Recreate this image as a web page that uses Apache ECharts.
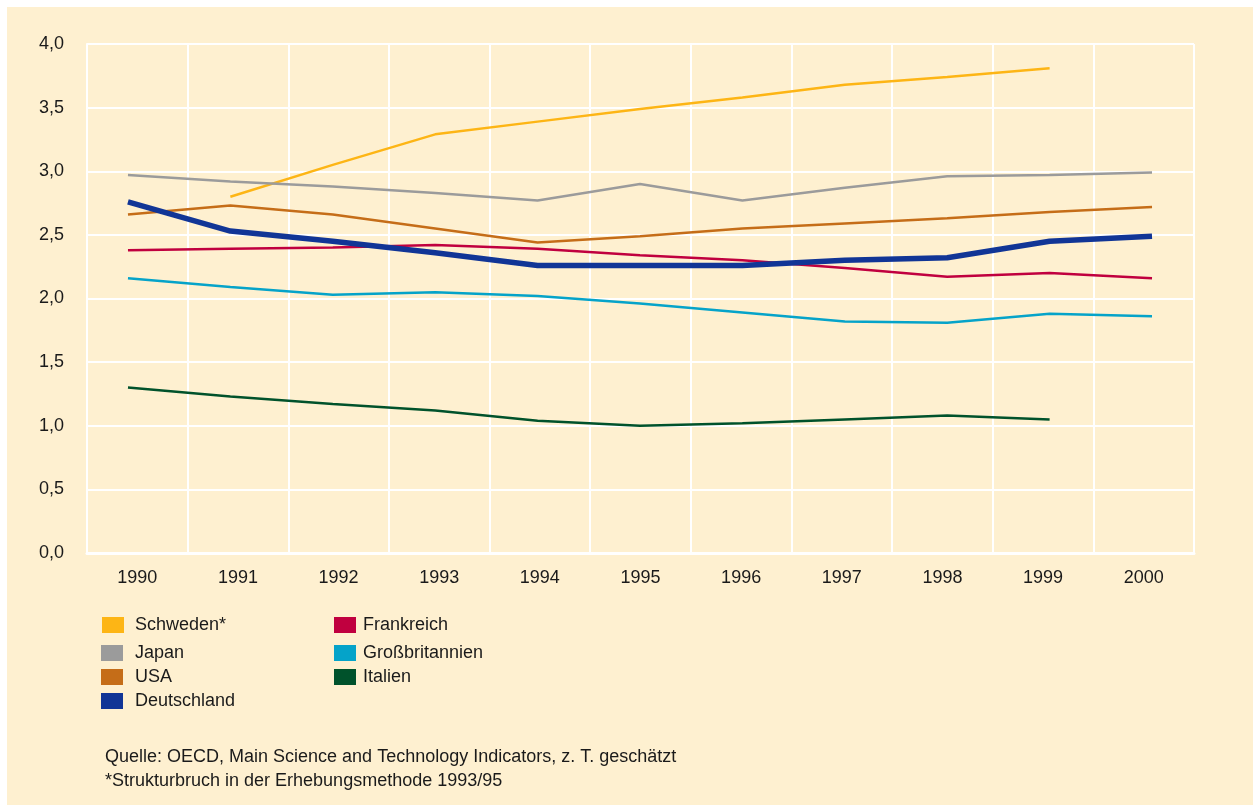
<!DOCTYPE html>
<html>
<head>
<meta charset="utf-8">
<script src="https://cdn.jsdelivr.net/npm/echarts@6/dist/echarts.min.js"></script>
<style>
body { margin: 0; background: #ffffff; }
#main { position: absolute; left: 7px; top: 7px; width: 1246px; height: 798px; }
</style>
</head>
<body>
<div id="main"></div>
<script>
var years = ['1990','1991','1992','1993','1994','1995','1996','1997','1998','1999','2000'];
var schweden     = [null, 2.80, 3.05, 3.29, 3.39, 3.49, 3.58, 3.68, 3.74, 3.81, null];
var japan        = [2.97, 2.92, 2.88, 2.83, 2.77, 2.90, 2.77, 2.87, 2.96, 2.97, 2.99];
var usa          = [2.66, 2.73, 2.66, 2.55, 2.44, 2.49, 2.55, 2.59, 2.63, 2.68, 2.72];
var deutschland  = [2.76, 2.53, 2.45, 2.36, 2.26, 2.26, 2.26, 2.30, 2.32, 2.45, 2.49];
var frankreich   = [2.38, 2.39, 2.40, 2.42, 2.39, 2.34, 2.30, 2.24, 2.17, 2.20, 2.16];
var grossbritannien = [2.16, 2.09, 2.03, 2.05, 2.02, 1.96, 1.89, 1.82, 1.81, 1.88, 1.86];
var italien      = [1.30, 1.23, 1.17, 1.12, 1.04, 1.00, 1.02, 1.05, 1.08, 1.05, null];
var yTicks = { min: 0, max: 4, interval: 0.5 };

var dom = document.getElementById('main');
var myChart = echarts.init(dom);
var font = 'Liberation Sans';

function pairs(arr) {
    return years.map(function (y, i) { return [Number(y), arr[i]]; });
}

function line(name, arr, color, width) {
    return {
        name: name,
        type: 'line',
        xAxisIndex: 1,
        data: pairs(arr),
        symbol: 'none',
        connectNulls: false,
        lineStyle: { color: color, width: width },
        itemStyle: { color: color }
    };
}

var legendBase = {
    orient: 'vertical',
    icon: 'rect',
    itemWidth: 22,
    itemHeight: 16,
    itemGap: 6,
    padding: 0,
    selectedMode: false
};

function legend(names, left, top, pad) {
    return Object.assign({}, legendBase, {
        data: names,
        left: left,
        top: top,
        textStyle: { fontFamily: font, fontSize: 18, color: '#1a1a1a', lineHeight: 18, padding: [0, 0, 0, pad] }
    });
}

var option = {
    backgroundColor: '#fef0d0',
    animation: false,
    grid: { left: 80, top: 37, right: 59, bottom: 252 },
    xAxis: [
        {
            type: 'category',
            data: years,
            boundaryGap: true,
            axisLine: { show: true, lineStyle: { color: '#ffffff', width: 3 } },
            axisTick: { show: false },
            axisLabel: { fontFamily: font, fontSize: 18, color: '#1a1a1a', margin: 16 },
            splitLine: { show: true, lineStyle: { color: '#ffffff', width: 2 } }
        },
        {
            type: 'value',
            show: false,
            min: 1989.6,
            max: 2000.41
        }
    ],
    yAxis: {
        type: 'value',
        min: yTicks.min,
        max: yTicks.max,
        interval: yTicks.interval,
        axisLine: { show: true, lineStyle: { color: '#ffffff', width: 2 } },
        axisTick: { show: false },
        axisLabel: {
            fontFamily: font, fontSize: 18, color: '#1a1a1a', margin: 23,
            formatter: function (v) { return v.toFixed(1).replace('.', ','); }
        },
        splitLine: { show: true, lineStyle: { color: '#ffffff', width: 2 } }
    },
    legend: [
        legend(['Schweden*'], 95, 609, 6),
        legend(['Japan', 'USA', 'Deutschland'], 94, 637, 7),
        legend(['Frankreich'], 327, 609, 2),
        legend(['Großbritannien', 'Italien'], 327, 637, 2)
    ],
    graphic: [
        {
            type: 'text', left: 98, top: 741,
            style: { text: 'Quelle: OECD, Main Science and Technology Indicators, z. T. geschätzt', font: '18px "Liberation Sans"', fill: '#1a1a1a' }
        },
        {
            type: 'text', left: 98, top: 765,
            style: { text: '*Strukturbruch in der Erhebungsmethode 1993/95', font: '18px "Liberation Sans"', fill: '#1a1a1a' }
        }
    ],
    series: [
        line('Schweden*', schweden, '#fdb515', 2.5),
        line('Japan', japan, '#9b9b9b', 2.5),
        line('USA', usa, '#c56d18', 2.5),
        line('Frankreich', frankreich, '#c0003f', 2.5),
        line('Großbritannien', grossbritannien, '#05a3c9', 2.5),
        line('Italien', italien, '#00522b', 2.5),
        line('Deutschland', deutschland, '#113596', 5.5)
    ]
};

if (option && typeof option === 'object') {
    myChart.setOption(option, true);
}
</script>
</body>
</html>
